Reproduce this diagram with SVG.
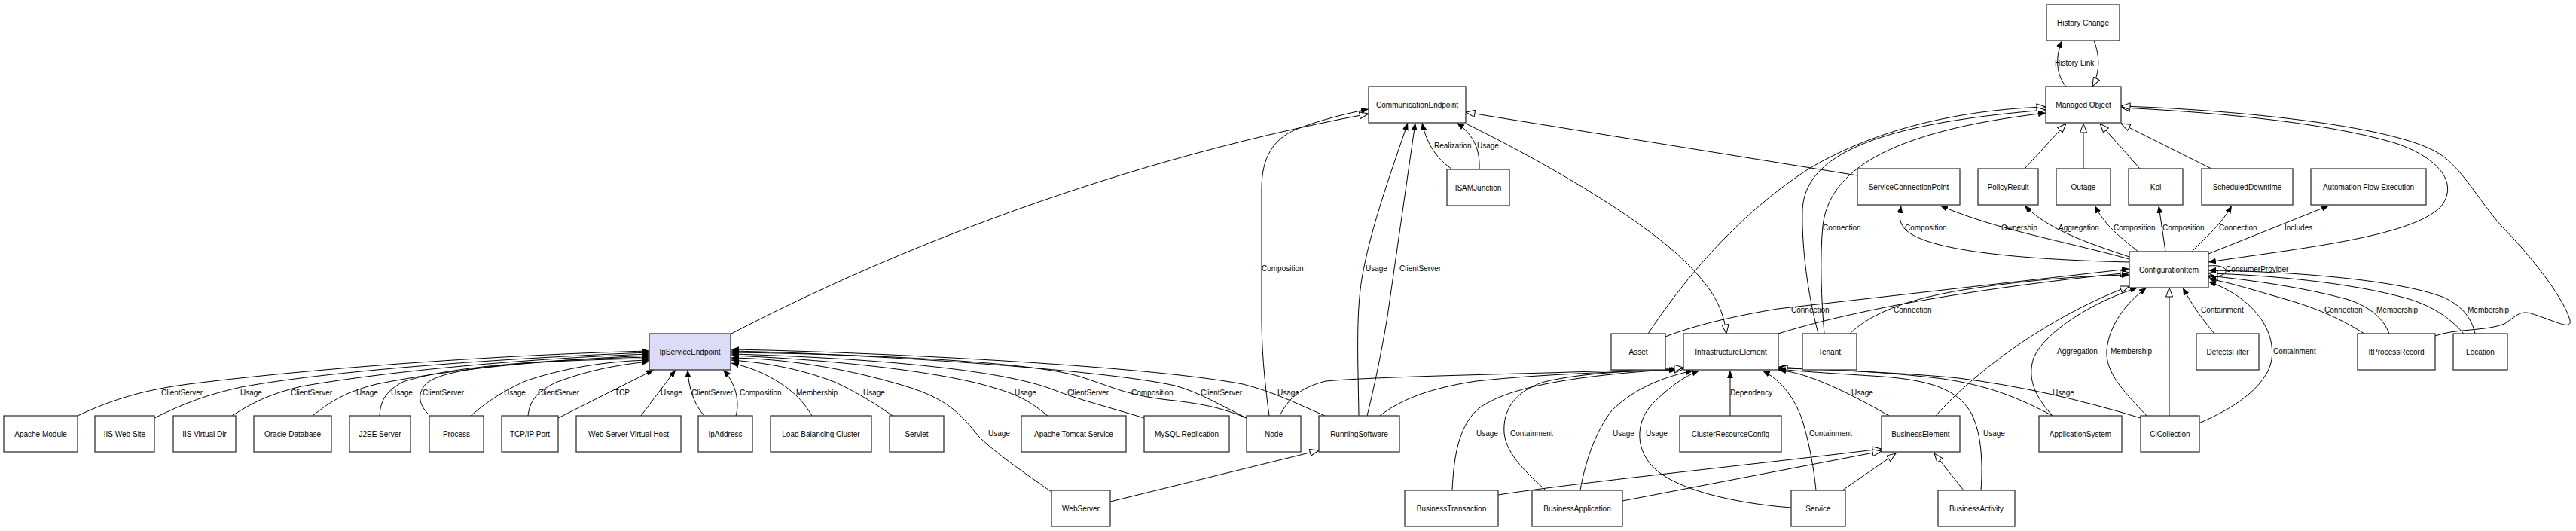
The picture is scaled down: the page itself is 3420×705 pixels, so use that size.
<svg xmlns="http://www.w3.org/2000/svg" width="3420" height="705" viewBox="0 0 3420 705">
<style>
.n rect{fill:#fff;stroke:#333;stroke-width:1.3}
.n text{font-family:"Liberation Sans",Arial,sans-serif;font-size:10px;text-anchor:middle;fill:#000}
#ise rect{fill:#dcdcf8}
.e path{fill:none;stroke:#000;stroke-width:1}
.f{marker-end:url(#fa)}
.h{marker-end:url(#ha)}
.l{font-family:"Liberation Sans",Arial,sans-serif;font-size:10px;fill:#000}
</style>
<defs>
<marker id="fa" viewBox="0 0 10 8" refX="10" refY="4" markerWidth="10" markerHeight="8" orient="auto" markerUnits="userSpaceOnUse"><path d="M0,0 L10,4 L0,8 z" fill="#000"/></marker>
<marker id="fas" viewBox="0 0 10 8" refX="10" refY="4" markerWidth="10" markerHeight="8" orient="auto-start-reverse" markerUnits="userSpaceOnUse"><path d="M0,0 L10,4 L0,8 z" fill="#000"/></marker>
<marker id="ha" viewBox="0 0 13 10" refX="12.5" refY="5" markerWidth="13" markerHeight="10" orient="auto" markerUnits="userSpaceOnUse"><path d="M0.5,0.5 L12.5,5 L0.5,9.5 z" fill="#fff" stroke="#000" stroke-width="1"/></marker>
</defs>
<rect width="3420" height="705" fill="#fff"/>
<g id="connectors" class="e">
<path class="f" d="M103,552 C150,530 190,518 250,510 C450,485 700,470 862,466"/>
<path class="f" d="M205,555 C245,535 275,524 320,514 C450,490 700,474 862,468"/>
<path class="f" d="M308,552 C335,535 355,524 400,513 C520,492 700,476 862,470"/>
<path class="f" d="M415,552 C440,532 460,520 500,510 C600,490 720,478 862,472"/>
<path class="f" d="M504,552 C505,535 510,520 535,507 C600,485 740,477 862,474"/>
<path class="f" d="M570,551 C558,540 552,525 565,510 C590,485 730,478 862,476"/>
<path class="f" d="M625,552 C645,535 665,520 700,505 C760,485 820,479 862,478"/>
<path class="f" d="M701,552 C703,535 710,520 740,507 C780,492 820,484 862,480"/>
<path class="f" d="M741,555 L868,491"/>
<path class="f" d="M851,552 L897,491"/>
<path class="f" d="M935,552 C922,538 914,515 913,491"/>
<path class="f" d="M977,552 C982,535 978,510 960,491"/>
<path class="f" d="M1078,552 C1068,535 1055,520 1030,505 C1010,493 990,486 971,482"/>
<path class="f" d="M1185,552 C1165,538 1140,522 1110,508 C1060,488 1010,481 971,478"/>
<path class="f" d="M1396,653 C1360,628 1320,600 1300,580 C1275,550 1260,530 1200,512 C1120,488 1040,476 971,475"/>
<path class="f" d="M1391,552 C1370,535 1355,525 1320,515 C1250,493 1100,477 971,472"/>
<path class="f" d="M1519,555 C1470,540 1430,530 1400,518 C1330,490 1150,475 971,470"/>
<path class="f" d="M1655,555 C1630,545 1610,538 1560,532 C1500,526 1480,515 1440,502 C1380,480 1150,470 971,468"/>
<path class="f" d="M1655,555 C1620,538 1595,522 1560,512 C1460,490 1150,470 971,466"/>
<path class="f" d="M1759,552 C1720,535 1690,520 1650,510 C1520,485 1150,467 971,464"/>
<path class="h" d="M1474,666 L1751,598"/>
<path class="h" d="M971,443 C1150,350 1450,220 1817,151"/>
<path class="f" d="M1685,552 C1678,500 1675,460 1675,420 L1675,250 C1675,210 1690,185 1720,172 C1750,160 1790,150 1817,145"/>
<path class="f" d="M1804,552 C1803,480 1800,420 1808,370 C1820,300 1850,220 1869,163"/>
<path class="f" d="M1815,552 C1828,500 1838,445 1842,420 L1879,163"/>
<path class="f" d="M1928,225 C1910,212 1895,195 1888,163"/>
<path class="f" d="M1964,225 C1965,200 1958,180 1934,163"/>
<path class="h" d="M2466,233 L1946,149"/>
<path class="h" d="M1946,164 C2050,215 2180,290 2240,350 C2275,385 2288,410 2292,443"/>
<path class="f" d="M2743,115 C2730,100 2728,75 2738,54"/>
<path class="h" d="M2780,54 C2788,75 2788,95 2778,115"/>
<path class="h" d="M2688,224 L2743,164"/>
<path class="h" d="M2766,224 L2766,164"/>
<path class="h" d="M2841,224 L2788,164"/>
<path class="h" d="M2936,224 L2816,164"/>
<path class="h" d="M2188,443 C2230,380 2300,290 2400,225 C2500,165 2620,145 2716,142"/>
<path class="h" d="M2414,443 C2400,390 2392,330 2393,280 C2395,210 2480,165 2716,146"/>
<path class="f" d="M2422,443 C2418,400 2416,340 2420,300 C2428,230 2500,175 2716,150"/>
<path class="h" marker-start="url(#fas)" d="M2932,348 C3050,330 3200,315 3240,275 C3265,245 3240,210 3180,190 C3080,160 2920,148 2816,143"/>
<path class="h" d="M3233,446 C3260,436 3300,440 3325,430 C3340,420 3345,412 3360,416 C3390,425 3415,440 3412,425 C3405,400 3370,350 3321,300 C3290,265 3270,225 3240,205 C3180,165 2950,145 2816,141"/>
<path class="f" d="M2827,348 C2700,345 2560,335 2530,305 C2520,295 2522,285 2524,273"/>
<path class="f" d="M2827,344 C2740,320 2650,305 2576,273"/>
<path class="f" d="M2827,341 C2770,322 2720,305 2688,273"/>
<path class="f" d="M2839,334 C2815,315 2795,300 2781,273"/>
<path class="f" d="M2875,334 L2866,273"/>
<path class="f" d="M2910,334 C2925,318 2948,300 2963,273"/>
<path class="f" d="M2932,337 L3092,273"/>
<path class="h" d="M2361,443 C2450,415 2600,385 2827,362"/>
<path class="f" d="M2211,447 C2250,432 2300,420 2360,410 L2827,357"/>
<path class="f" d="M2456,443 C2480,420 2520,400 2600,386 C2680,373 2760,366 2827,365"/>
<path class="h" d="M2570,552 C2620,495 2720,420 2827,380"/>
<path class="f" d="M2725,552 C2705,530 2690,505 2700,475 C2715,440 2780,400 2838,382"/>
<path class="f" d="M2850,552 C2820,520 2795,495 2797,465 C2800,430 2825,400 2850,382"/>
<path class="h" d="M2880,552 L2880,382"/>
<path class="f" d="M2940,443 C2925,425 2910,405 2898,382"/>
<path class="f" d="M2919,562 C2960,545 3010,515 3016,477 C3022,430 2980,390 2932,374"/>
<path class="h" d="M2932,353 C2962,350 2964,368 2932,368"/>
<path class="f" d="M3139,443 C3110,425 3080,410 3030,396 C2995,386 2960,375 2932,370"/>
<path class="f" d="M3172,443 C3165,425 3150,408 3115,397 C3060,382 2990,372 2932,366"/>
<path class="h" d="M3271,443 C3255,425 3235,408 3195,396 C3120,375 3010,365 2932,363"/>
<path class="f" d="M3286,443 C3282,425 3272,408 3245,395 C3180,370 3030,360 2932,359"/>
<path class="f" d="M2297,552 L2297,492"/>
<path class="f" d="M2411,651 C2408,620 2402,590 2395,565 C2385,530 2365,505 2340,492"/>
<path class="f" d="M2378,674 C2300,668 2230,650 2200,625 C2170,600 2170,560 2195,535 C2215,515 2235,500 2256,492"/>
<path class="f" d="M2098,651 C2105,610 2120,570 2140,545 C2170,515 2210,500 2248,492"/>
<path class="f" d="M2052,651 C2030,630 2000,605 1997,575 C1995,545 2010,520 2050,507 C2100,495 2170,492 2226,491"/>
<path class="f" d="M1928,651 C1930,610 1935,570 1960,545 C1990,520 2060,500 2228,490"/>
<path class="h" d="M1832,552 C1860,530 1900,515 1960,506 C2050,496 2150,494 2235,490"/>
<path class="h" d="M1699,552 C1710,530 1725,515 1760,506 C1850,498 2100,496 2235,488"/>
<path class="f" d="M2842,555 C2760,530 2680,512 2600,502 C2520,494 2430,492 2361,487"/>
<path class="h" d="M2725,552 C2680,528 2640,512 2580,503 C2500,493 2420,490 2361,489"/>
<path class="f" d="M2508,552 C2470,530 2430,510 2400,500 C2385,495 2370,492 2361,491"/>
<path class="f" d="M2630,651 C2633,610 2630,570 2615,545 C2595,515 2560,505 2500,500 C2440,496 2400,494 2361,490"/>
<path class="h" d="M1989,657 C2100,640 2300,620 2498,596"/>
<path class="h" d="M2154,665 L2498,599"/>
<path class="h" d="M2446,651 L2517,602"/>
<path class="h" d="M2607,651 L2568,602"/>
</g>
<g id="labels">
<text class="l" x="214" y="524.5">ClientServer</text>
<text class="l" x="319" y="524.5">Usage</text>
<text class="l" x="386" y="524.5">ClientServer</text>
<text class="l" x="473" y="524.5">Usage</text>
<text class="l" x="519" y="524.5">Usage</text>
<text class="l" x="561" y="524.5">ClientServer</text>
<text class="l" x="669" y="524.5">Usage</text>
<text class="l" x="714" y="524.5">ClientServer</text>
<text class="l" x="816" y="524.5">TCP</text>
<text class="l" x="877" y="524.5">Usage</text>
<text class="l" x="918" y="524.5">ClientServer</text>
<text class="l" x="982" y="524.5">Composition</text>
<text class="l" x="1057" y="524.5">Membership</text>
<text class="l" x="1146" y="524.5">Usage</text>
<text class="l" x="1312" y="578.5">Usage</text>
<text class="l" x="1347" y="524.5">Usage</text>
<text class="l" x="1417" y="524.5">ClientServer</text>
<text class="l" x="1502" y="524.5">Composition</text>
<text class="l" x="1594" y="524.5">ClientServer</text>
<text class="l" x="1696" y="524.5">Usage</text>
<text class="l" x="2297" y="524.5">Dependency</text>
<text class="l" x="1960" y="578.5">Usage</text>
<text class="l" x="2005" y="578.5">Containment</text>
<text class="l" x="2141" y="578.5">Usage</text>
<text class="l" x="2185" y="578.5">Usage</text>
<text class="l" x="2402" y="578.5">Containment</text>
<text class="l" x="2458" y="524.5">Usage</text>
<text class="l" x="2633" y="578.5">Usage</text>
<text class="l" x="2731" y="469.5">Aggregation</text>
<text class="l" x="2802" y="469.5">Membership</text>
<text class="l" x="2725" y="524.5">Usage</text>
<text class="l" x="2922" y="414.5">Containment</text>
<text class="l" x="3018" y="469.5">Containment</text>
<text class="l" x="3086" y="414.5">Connection</text>
<text class="l" x="3155" y="414.5">Membership</text>
<text class="l" x="3276" y="414.5">Membership</text>
<text class="l" x="2955" y="360.5">ConsumerProvider</text>
<text class="l" x="2420" y="305.5">Connection</text>
<text class="l" x="2529" y="305.5">Composition</text>
<text class="l" x="2657" y="305.5">Ownership</text>
<text class="l" x="2733" y="305.5">Aggregation</text>
<text class="l" x="2806" y="305.5">Composition</text>
<text class="l" x="2871" y="305.5">Composition</text>
<text class="l" x="2946" y="305.5">Connection</text>
<text class="l" x="3033" y="305.5">Includes</text>
<text class="l" x="2378" y="414.5">Connection</text>
<text class="l" x="2514" y="414.5">Connection</text>
<text class="l" x="2728" y="86.5">History Link</text>
<text class="l" x="1904" y="196.5">Realization</text>
<text class="l" x="1961" y="196.5">Usage</text>
<text class="l" x="1813" y="360">Usage</text>
<text class="l" x="1858" y="360">ClientServer</text>
<text class="l" x="1675" y="360">Composition</text>
</g>
<g id="apache" class="n"><rect x="5" y="552" width="98" height="48"/><text x="54" y="579.5">Apache Module</text></g>
<g id="iisweb" class="n"><rect x="126" y="552" width="79" height="48"/><text x="165.5" y="579.5">IIS Web Site</text></g>
<g id="iisvd" class="n"><rect x="230" y="552" width="83" height="48"/><text x="271.5" y="579.5">IIS Virtual Dir</text></g>
<g id="oracle" class="n"><rect x="337" y="552" width="103" height="48"/><text x="388.5" y="579.5">Oracle Database</text></g>
<g id="j2ee" class="n"><rect x="464" y="552" width="81" height="48"/><text x="504.5" y="579.5">J2EE Server</text></g>
<g id="process" class="n"><rect x="570" y="552" width="72" height="48"/><text x="606" y="579.5">Process</text></g>
<g id="tcpport" class="n"><rect x="666" y="552" width="75" height="48"/><text x="703.5" y="579.5">TCP/IP Port</text></g>
<g id="wsvh" class="n"><rect x="765" y="552" width="139" height="48"/><text x="834.5" y="579.5">Web Server Virtual Host</text></g>
<g id="ipaddr" class="n"><rect x="927" y="552" width="72" height="48"/><text x="963" y="579.5">IpAddress</text></g>
<g id="lbc" class="n"><rect x="1023" y="552" width="134" height="48"/><text x="1090" y="579.5">Load Balancing Cluster</text></g>
<g id="servlet" class="n"><rect x="1181" y="552" width="72" height="48"/><text x="1217" y="579.5">Servlet</text></g>
<g id="tomcat" class="n"><rect x="1356" y="552" width="139" height="48"/><text x="1425.5" y="579.5">Apache Tomcat Service</text></g>
<g id="mysql" class="n"><rect x="1519" y="552" width="113" height="48"/><text x="1575.5" y="579.5">MySQL Replication</text></g>
<g id="node" class="n"><rect x="1655" y="552" width="72" height="48"/><text x="1691" y="579.5">Node</text></g>
<g id="runsw" class="n"><rect x="1751" y="552" width="107" height="48"/><text x="1804.5" y="579.5">RunningSoftware</text></g>
<g id="webserver" class="n"><rect x="1396" y="651" width="78" height="48"/><text x="1435" y="678.5">WebServer</text></g>
<g id="ise" class="n"><rect x="862" y="443" width="108" height="48"/><text x="916" y="470.5">IpServiceEndpoint</text></g>
<g id="asset" class="n"><rect x="2139" y="443" width="72" height="48"/><text x="2175" y="470.5">Asset</text></g>
<g id="infra" class="n"><rect x="2235" y="443" width="126" height="48"/><text x="2298" y="470.5">InfrastructureElement</text></g>
<g id="crc" class="n"><rect x="2230" y="552" width="135" height="48"/><text x="2297.5" y="579.5">ClusterResourceConfig</text></g>
<g id="bt" class="n"><rect x="1865" y="651" width="124" height="48"/><text x="1927" y="678.5">BusinessTransaction</text></g>
<g id="bapp" class="n"><rect x="2034" y="651" width="120" height="48"/><text x="2094" y="678.5">BusinessApplication</text></g>
<g id="service" class="n"><rect x="2378" y="651" width="72" height="48"/><text x="2414" y="678.5">Service</text></g>
<g id="tenant" class="n"><rect x="2393" y="443" width="72" height="48"/><text x="2429" y="470.5">Tenant</text></g>
<g id="be" class="n"><rect x="2498" y="552" width="104" height="48"/><text x="2550" y="579.5">BusinessElement</text></g>
<g id="ba" class="n"><rect x="2573" y="651" width="102" height="48"/><text x="2624" y="678.5">BusinessActivity</text></g>
<g id="appsys" class="n"><rect x="2707" y="552" width="110" height="48"/><text x="2762" y="579.5">ApplicationSystem</text></g>
<g id="cicoll" class="n"><rect x="2842" y="552" width="78" height="48"/><text x="2881" y="579.5">CiCollection</text></g>
<g id="defects" class="n"><rect x="2916" y="443" width="83" height="48"/><text x="2957.5" y="470.5">DefectsFilter</text></g>
<g id="ipr" class="n"><rect x="3130" y="443" width="103" height="48"/><text x="3181.5" y="470.5">ItProcessRecord</text></g>
<g id="location" class="n"><rect x="3257" y="443" width="72" height="48"/><text x="3293" y="470.5">Location</text></g>
<g id="ci" class="n"><rect x="2827" y="334" width="105" height="48"/><text x="2879.5" y="361.5">ConfigurationItem</text></g>
<g id="scp" class="n"><rect x="2466" y="224" width="136" height="48"/><text x="2534" y="251.5">ServiceConnectionPoint</text></g>
<g id="policy" class="n"><rect x="2626" y="224" width="80" height="48"/><text x="2666" y="251.5">PolicyResult</text></g>
<g id="outage" class="n"><rect x="2730" y="224" width="72" height="48"/><text x="2766" y="251.5">Outage</text></g>
<g id="kpi" class="n"><rect x="2826" y="224" width="72" height="48"/><text x="2862" y="251.5">Kpi</text></g>
<g id="sched" class="n"><rect x="2923" y="224" width="121" height="48"/><text x="2983.5" y="251.5">ScheduledDowntime</text></g>
<g id="afe" class="n"><rect x="3068" y="224" width="153" height="48"/><text x="3144.5" y="251.5">Automation Flow Execution</text></g>
<g id="history" class="n"><rect x="2717" y="6" width="97" height="48"/><text x="2765.5" y="33.5">History Change</text></g>
<g id="mo" class="n"><rect x="2716" y="115" width="100" height="48"/><text x="2766" y="142.5">Managed Object</text></g>
<g id="ce" class="n"><rect x="1817" y="115" width="129" height="48"/><text x="1881.5" y="142.5">CommunicationEndpoint</text></g>
<g id="isam" class="n"><rect x="1921" y="225" width="83" height="48"/><text x="1962.5" y="252.5">ISAMJunction</text></g>
</svg>
